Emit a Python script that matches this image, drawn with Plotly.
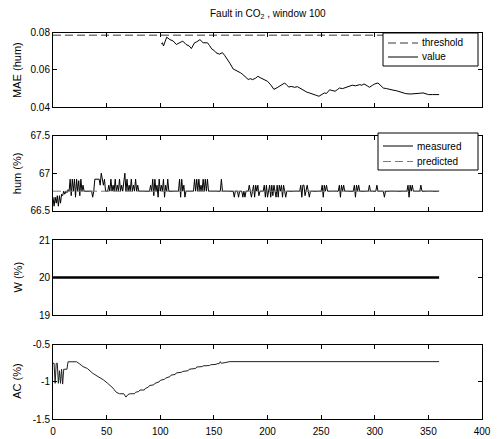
import plotly.graph_objects as go
from plotly.subplots import make_subplots

# ---------------- data ----------------
x_ticks = [0, 50, 100, 150, 200, 250, 300, 350, 400]

threshold_x = [0, 360]
threshold_y = [0.0785, 0.0785]

mae_pts = [(101, 0.0740), (102, 0.0745), (103, 0.0728), (106, 0.0775), (109, 0.0762), (112, 0.0755),
           (115, 0.0736), (118, 0.0745), (121, 0.0754), (124, 0.0736), (127, 0.0728), (129, 0.0714),
           (132, 0.0745), (134, 0.0750), (137, 0.0762), (140, 0.0745), (144, 0.0745), (146, 0.0730),
           (148, 0.0712), (150, 0.0705), (152, 0.0692), (155, 0.0684), (158, 0.0692), (160, 0.0678),
           (163, 0.0655), (165, 0.0635), (168, 0.0605), (170, 0.0600), (172, 0.0594), (175, 0.0584),
           (177, 0.0575), (180, 0.0560), (182, 0.0549), (184, 0.0553), (186, 0.0548), (189, 0.0556),
           (191, 0.0566), (193, 0.0559), (196, 0.0549), (198, 0.0546), (200, 0.0539), (203, 0.0520),
           (206, 0.0496), (209, 0.0505), (211, 0.0512), (214, 0.0522), (216, 0.0530), (218, 0.0518),
           (220, 0.0508), (222, 0.0512), (225, 0.0507), (228, 0.0510), (230, 0.0503), (232, 0.0495),
           (234, 0.0487), (237, 0.0480), (239, 0.0477), (241, 0.0472), (244, 0.0468), (246, 0.0463),
           (248, 0.0459), (250, 0.0466), (253, 0.0477), (255, 0.0474), (258, 0.0494), (260, 0.0490),
           (263, 0.0486), (265, 0.0494), (267, 0.0503), (270, 0.0500), (273, 0.0507), (276, 0.0512),
           (279, 0.0518), (282, 0.0515), (286, 0.0521), (288, 0.0518), (290, 0.0525), (293, 0.0515),
           (295, 0.0507), (298, 0.0518), (300, 0.0525), (303, 0.0530), (305, 0.0518), (308, 0.0503),
           (311, 0.0500), (314, 0.0494), (317, 0.0492), (320, 0.0489), (323, 0.0484), (326, 0.0477),
           (329, 0.0473), (333, 0.0471), (336, 0.0471), (339, 0.0471), (342, 0.0475), (345, 0.0477),
           (347, 0.0472), (350, 0.0468), (354, 0.0468), (357, 0.0467), (360, 0.0468)]

hum_pts = [(0, 66.68), (1, 66.56), (2, 66.68), (3, 66.6), (4, 66.7), (5, 66.56), (6, 66.7), (7, 66.6), (8, 66.72),
           (9, 66.7), (10, 66.76), (11, 66.72), (12, 66.76), (13, 66.74), (14, 66.78), (15, 66.76),
           (16, 66.92), (17, 66.7), (18, 66.92), (19, 66.76), (20, 66.92), (21, 66.68), (22, 66.92), (23, 66.76),
           (24, 66.9), (25, 66.7), (26, 66.92), (27, 66.76), (28, 66.84), (29, 66.76),
           (36, 66.76), (37, 66.68), (38, 66.76), (39, 66.92), (43, 66.92), (44, 66.84), (45, 67.0), (46, 66.92),
           (47, 66.84), (48, 66.92), (49, 66.76),
           (51, 66.76), (52, 66.84), (53, 66.76), (54, 66.92), (55, 66.76), (56, 66.84), (57, 66.76), (58, 66.92),
           (59, 66.76), (60, 66.84), (61, 66.76), (62, 66.92), (63, 66.76), (64, 66.84), (65, 66.76), (66, 66.92),
           (67, 67.0), (68, 66.76), (69, 66.92), (70, 66.76), (71, 66.84), (72, 66.76), (73, 66.92), (74, 66.76),
           (75, 66.84), (76, 66.76), (77, 66.92), (78, 66.76), (79, 66.84), (80, 66.76),
           (90, 66.76), (91, 66.84), (92, 66.76), (93, 66.92), (94, 66.7), (95, 66.92), (96, 66.76), (97, 66.84),
           (98, 66.68), (99, 66.92), (100, 66.76), (101, 66.84), (102, 66.76), (103, 66.92), (104, 66.68),
           (105, 66.84), (106, 66.76), (107, 66.92), (108, 66.76),
           (117, 66.76), (118, 66.92), (119, 66.68), (120, 66.92), (121, 66.76), (122, 66.84), (123, 66.68), (124, 66.76),
           (131, 66.76), (132, 66.92), (133, 66.76), (134, 66.92), (135, 66.76), (136, 66.92), (137, 66.76),
           (138, 66.84), (139, 66.76), (140, 66.92), (141, 66.76), (142, 66.92), (143, 66.76), (144, 66.92), (145, 66.76),
           (156, 66.76), (157, 66.92), (158, 66.76),
           (168, 66.76), (169, 66.68), (170, 66.76), (172, 66.76), (173, 66.68), (174, 66.76), (176, 66.76),
           (177, 66.68), (178, 66.76), (179, 66.68), (180, 66.76), (182, 66.76), (183, 66.84), (184, 66.76),
           (185, 66.68), (186, 66.76), (187, 66.84), (188, 66.68), (189, 66.84), (190, 66.76), (191, 66.84),
           (192, 66.7), (193, 66.76),
           (196, 66.76), (197, 66.84), (198, 66.68), (199, 66.84), (200, 66.68), (201, 66.76), (202, 66.84),
           (203, 66.68), (204, 66.84), (205, 66.7), (206, 66.84), (207, 66.76), (208, 66.68), (209, 66.84),
           (210, 66.68), (211, 66.84), (212, 66.76), (213, 66.84), (214, 66.68), (215, 66.84), (216, 66.76),
           (217, 66.68), (218, 66.76),
           (230, 66.76), (231, 66.84), (232, 66.68), (233, 66.84), (234, 66.84), (235, 66.7), (236, 66.76),
           (237, 66.84), (238, 66.76), (239, 66.68), (240, 66.76),
           (250, 66.76), (251, 66.84), (252, 66.68), (253, 66.84), (254, 66.76), (255, 66.84), (256, 66.76),
           (266, 66.76), (267, 66.84), (268, 66.68), (269, 66.84), (270, 66.76), (271, 66.84), (272, 66.76),
           (280, 66.76), (281, 66.84), (282, 66.68), (283, 66.84), (284, 66.76), (285, 66.84), (286, 66.76),
           (294, 66.76), (295, 66.84), (296, 66.76), (301, 66.76), (302, 66.84), (303, 66.76),
           (308, 66.76), (309, 66.68), (310, 66.76),
           (330, 66.76), (331, 66.84), (332, 66.68), (333, 66.84), (334, 66.76), (335, 66.84), (336, 66.76),
           (342, 66.76), (343, 66.84), (344, 66.76), (360, 66.76)]

pred_x = [0, 360]
pred_y = [66.76, 66.76]

w_x = [0, 360]
w_y = [20, 20]

ac_pts = [(0, -0.75), (1, -0.75), (2, -1.02), (3, -0.75), (4, -0.75), (5, -1.02), (6, -0.85), (7, -1.02),
          (8, -0.83), (9, -1.03), (10, -0.83), (13, -0.83), (14, -0.73), (22, -0.73), (25, -0.76), (28, -0.795),
          (32, -0.82), (37, -0.884), (42, -0.93), (47, -0.973), (51, -1.02), (56, -1.085), (59, -1.14),
          (62, -1.16), (66, -1.16), (68, -1.205), (70, -1.17), (72, -1.16), (76, -1.16),
          (77, -1.14), (80, -1.13), (81, -1.11), (85, -1.11), (86, -1.09), (89, -1.07), (90, -1.05), (94, -1.04),
          (95, -1.02), (99, -1.0), (100, -0.98), (104, -0.965), (105, -0.95), (109, -0.93), (110, -0.91),
          (114, -0.90), (115, -0.88), (120, -0.87), (121, -0.86), (126, -0.85), (127, -0.83), (133, -0.82),
          (134, -0.80), (139, -0.795), (140, -0.785), (146, -0.78), (147, -0.77), (152, -0.765), (153, -0.755),
          (155, -0.755), (156, -0.728), (157, -0.75), (160, -0.74), (163, -0.735), (165, -0.728), (360, -0.728)]

y1_ticks = [0.04, 0.06, 0.08]
y2_ticks = [66.5, 67, 67.5]
y3_ticks = [19, 20, 21]
y4_ticks = [-1.5, -1, -0.5]
y4_labels = ["-1.5", "-1", "-0.5"]

legend1_labels = ["threshold", "value"]
legend2_labels = ["measured", "predicted"]

# ---------------- figure ----------------
W, H = 497, 439
ml, mr, mt, mb = 53, 15, 32, 20
FONT = "Liberation Sans, Arial, sans-serif"
GRAY = "#7a7a7a"
DASH = "8px,4px"

fig = make_subplots(rows=4, cols=1)

fig.add_trace(go.Scatter(x=threshold_x, y=threshold_y, mode="lines", showlegend=False,
                         line=dict(color=GRAY, width=1.5, dash=DASH)), row=1, col=1)
fig.add_trace(go.Scatter(x=[p[0] for p in mae_pts], y=[p[1] for p in mae_pts], mode="lines", showlegend=False,
                         line=dict(color="black", width=1)), row=1, col=1)

fig.add_trace(go.Scatter(x=[p[0] for p in hum_pts], y=[p[1] for p in hum_pts], mode="lines", showlegend=False,
                         line=dict(color="black", width=1)), row=2, col=1)
fig.add_trace(go.Scatter(x=pred_x, y=pred_y, mode="lines", showlegend=False,
                         line=dict(color=GRAY, width=1, dash=DASH)), row=2, col=1)

fig.add_trace(go.Scatter(x=w_x, y=w_y, mode="lines", showlegend=False,
                         line=dict(color="black", width=2.5)), row=3, col=1)

fig.add_trace(go.Scatter(x=[p[0] for p in ac_pts], y=[p[1] for p in ac_pts], mode="lines", showlegend=False,
                         line=dict(color="#222222", width=1)), row=4, col=1)

plot_w = W - ml - mr
plot_h = H - mt - mb

def px(xp):
    return (xp - ml) / plot_w

def py(yp):
    return (H - mb - yp) / plot_h

def dom(top_px, bot_px):
    return [max(0.0, py(bot_px)), min(1.0, py(top_px))]

domains = [dom(32.5, 107.3), dom(135.7, 210.7), dom(240, 315), dom(344.7, 419)]
yranges = [[0.04, 0.08], [66.5, 67.5], [19, 21], [-1.5, -0.5]]
yticks = [y1_ticks, y2_ticks, y3_ticks, y4_ticks]
ylabels = ["MAE (hum)", "hum (%)", "W (%)", "AC (%)"]

axis_common = dict(showline=True, linecolor="black", linewidth=1, mirror="ticks", ticks="inside",
                   ticklen=4, tickcolor="black", tickwidth=1, showgrid=False, zeroline=False,
                   automargin=False, tickfont=dict(family=FONT, size=10, color="black"))

for i in range(4):
    xa = "xaxis" if i == 0 else f"xaxis{i+1}"
    ya = "yaxis" if i == 0 else f"yaxis{i+1}"
    fig.update_layout({
        xa: dict(axis_common, range=[0, 400], tickvals=x_ticks, showticklabels=(i == 3),
                 ticklabelstandoff=3),
        ya: dict(axis_common, range=yranges[i], domain=domains[i], tickvals=yticks[i],
                 ticktext=(y4_labels if i == 3 else [str(v) for v in yticks[i]])),
    })
    fig.add_annotation(text=ylabels[i], textangle=-90, xref="paper", yref="paper",
                       x=px(17), y=(domains[i][0] + domains[i][1]) / 2,
                       showarrow=False, font=dict(family=FONT, size=11, color="black"),
                       xanchor="center", yanchor="middle")

fig.add_annotation(text="Fault in CO<sub>2</sub> , window 100", xref="paper", yref="paper",
                   x=0.5, y=py(14), showarrow=False, xanchor="center", yanchor="middle",
                   font=dict(family=FONT, size=10, color="black"))

# manual MATLAB-style legends (box, line samples, labels)
def add_legend(box, rows, labels, styles):
    x0, y0, x1, y1 = box
    fig.add_shape(type="rect", xref="paper", yref="paper", x0=px(x0), x1=px(x1), y0=py(y1), y1=py(y0),
                  line=dict(color="black", width=1), fillcolor="white", layer="above")
    for ry, lab, st in zip(rows, labels, styles):
        fig.add_shape(type="line", xref="paper", yref="paper", x0=px(x0 + 5), x1=px(x0 + 35),
                      y0=py(ry), y1=py(ry), line=st, layer="above")
        fig.add_annotation(text=lab, xref="paper", yref="paper", x=px(x0 + 37), y=py(ry),
                           xanchor="left", yanchor="middle", showarrow=False,
                           font=dict(family=FONT, size=10, color="black"))

add_legend((383, 33, 478, 66), [43, 57], legend1_labels,
           [dict(color=GRAY, width=1.5, dash=DASH), dict(color="black", width=1)])
add_legend((378, 133, 478, 170), [146, 161.5], legend2_labels,
           [dict(color="black", width=1), dict(color=GRAY, width=1, dash=DASH)])

fig.update_layout(
    width=W, height=H,
    margin=dict(l=ml, r=mr, t=mt, b=mb, autoexpand=False),
    paper_bgcolor="white", plot_bgcolor="white",
    font=dict(family=FONT, size=10, color="black"),
    showlegend=False,
)

fig.write_html("out.html")
